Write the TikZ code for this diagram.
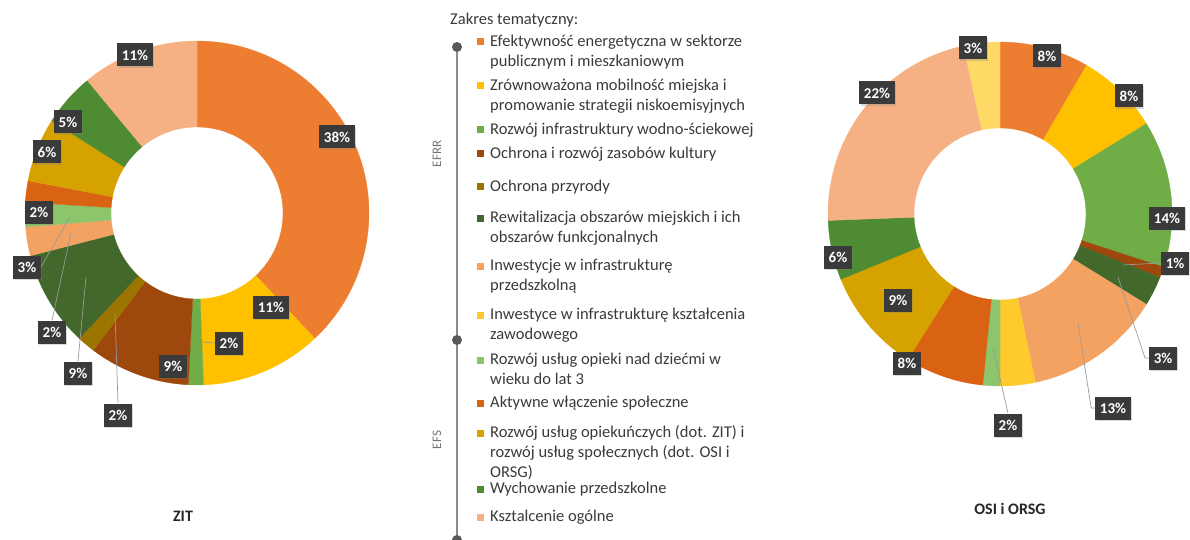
\documentclass[tikz,border=0pt]{standalone}
\usepackage{fontspec}
\setmainfont{Carlito}
\usetikzlibrary{calc,shadows}

\definecolor{cEfek}{HTML}{ED7D31}
\definecolor{cMob}{HTML}{FFC000}
\definecolor{cWod}{HTML}{70AD47}
\definecolor{cKult}{HTML}{9E480E}
\definecolor{cPrzyr}{HTML}{9C7400}
\definecolor{cRewit}{HTML}{43682B}
\definecolor{cPrzed}{HTML}{F4A261}
\definecolor{cZawod}{HTML}{FFCA2E}
\definecolor{cDzieci}{HTML}{8CC56B}
\definecolor{cAktyw}{HTML}{DA6213}
\definecolor{cOpiek}{HTML}{D6A200}
\definecolor{cWych}{HTML}{4F8B32}
\definecolor{cOgol}{HTML}{F5B183}
\definecolor{cJasny}{HTML}{FFD966}
\definecolor{labgray}{HTML}{3A3A3A}
\definecolor{legtext}{HTML}{3A3A3A}

\def\Rout{172pt}
\def\Rin{86pt}
\def\ringseg[#1](#2)(#3:#4){\path[fill=#1, draw=#1, line width=0.3pt] ($(#2)+({90-3.6*#3}:\Rout)$) arc ({90-3.6*#3}:{90-3.6*#4}:\Rout) -- ($(#2)+({90-3.6*#4}:\Rin)$) arc ({90-3.6*#4}:{90-3.6*#3}:\Rin) -- cycle;}
\newcommand{\legitem}[4]{\fill[#2] (477,#3-3.5) rectangle ++(7,7);
	\node[legtxt] (#1) at (490,#3+9.3) {\strut #4};}

\begin{document}
\begin{tikzpicture}[x=1pt, y=1pt,
		pct/.style={fill=labgray, text=white, font=\bfseries\fontsize{15}{15}\selectfont, inner sep=4.5pt, minimum height=23pt, drop shadow={shadow xshift=1.2pt, shadow yshift=-1.2pt, opacity=0.3}},
		lead/.style={draw=black!40, line width=0.7pt},
		legtxt/.style={anchor=north west, inner sep=0pt, align=left, text=legtext, font=\fontsize{16.5}{19.8}\selectfont},
		side/.style={rotate=90, text=black!55, font=\fontsize{13}{13}\selectfont},
		title/.style={font=\bfseries\fontsize{16}{16}\selectfont, text=black!85},
		tline/.style={draw=black!45, line width=1.5pt},
		tdot/.style={fill=black!65}]
		%%%%% START %%%%%
		
		\useasboundingbox (0,0) rectangle (1190,539);
		
		% ZIT
		\coordinate (zc) at (197,326);
		\ringseg[cEfek](zc)(0:38)
		\ringseg[cMob](zc)(38:49.4)
		\ringseg[cWod](zc)(49.4:50.8)
		\ringseg[cKult](zc)(50.8:60.3)
		\ringseg[cPrzyr](zc)(60.3:62)
		\ringseg[cRewit](zc)(62:71)
		\ringseg[cPrzed](zc)(71:73.7)
		\ringseg[cDzieci](zc)(73.7:76)
		\ringseg[cAktyw](zc)(76:78)
		\ringseg[cOpiek](zc)(78:84)
		\ringseg[cWych](zc)(84:89)
		\ringseg[cOgol](zc)(89:100)
		
		\node[pct] (z11a) at (135,484) {11\%};
		\node[pct] (z38) at (337,402) {38\%};
		\node[pct] (z5) at (68,417) {5\%};
		\node[pct] (z6) at (47,387) {6\%};
		\node[pct] (z2a) at (39,327) {2\%};
		\node[pct] (z3) at (27,272) {3\%};
		\node[pct] (z2b) at (52,207) {2\%};
		\node[pct] (z9a) at (78,166) {9\%};
		\node[pct] (z2c) at (118,124) {2\%};
		\node[pct] (z9b) at (173,173) {9\%};
		\node[pct] (z2d) at (229,196) {2\%};
		\node[pct] (z11b) at (271,232) {11\%};
		
		\coordinate (zDz) at (70,322);
		\coordinate (zPr) at (71,306);
		\coordinate (zRe) at (86,262);
		\coordinate (zPz) at (115,226);
		\coordinate (zWo) at (202,197);
		\draw[lead] (zDz) -- (z3.east);
		\draw[lead] (zPr) -- (z2b.north);
		\draw[lead] (zRe) -- (z9a.north);
		\draw[lead] (zPz) -- (z2c.north);
		\draw[lead] (zWo) -- (z2d.west);
		
		\node[title] (zit) at (183,23) {ZIT};
		
		% OSI i ORSG
		\coordinate (oc) at (1000,325);
		\ringseg[cEfek](oc)(0:8.4)
		\ringseg[cMob](oc)(8.4:16.2)
		\ringseg[cWod](oc)(16.2:30)
		\ringseg[cKult](oc)(30:31)
		\ringseg[cRewit](oc)(31:33.8)
		\ringseg[cPrzed](oc)(33.8:46.7)
		\ringseg[cZawod](oc)(46.7:50)
		\ringseg[cDzieci](oc)(50:51.6)
		\ringseg[cAktyw](oc)(51.6:59)
		\ringseg[cOpiek](oc)(59:68.8)
		\ringseg[cWych](oc)(68.8:74.4)
		\ringseg[cOgol](oc)(74.4:96.6)
		\ringseg[cJasny](oc)(96.6:100)
		
		\node[pct] (o3a) at (973,491) {3\%};
		\node[pct] (o8a) at (1047,483) {8\%};
		\node[pct] (o8b) at (1129,443) {8\%};
		\node[pct] (o22) at (877,446) {22\%};
		\node[pct] (o14) at (1167,321) {14\%};
		\node[pct] (o1) at (1175,276) {1\%};
		\node[pct] (o6) at (838,282) {6\%};
		\node[pct] (o9) at (898,239) {9\%};
		\node[pct] (o8c) at (907,176) {8\%};
		\node[pct] (o2) at (1008,114) {2\%};
		\node[pct] (o13) at (1113,131) {13\%};
		\node[pct] (o3b) at (1163,181) {3\%};
		
		\coordinate (oKu) at (1123,274);
		\coordinate (oRe) at (1118,262);
		\coordinate (oPr) at (1078,216);
		\coordinate (oDz) at (993,191);
		\draw[lead] (oKu) -- (o1.west);
		\draw[lead] (oRe) -- ([xshift=-4pt]o3b.west) -- (o3b.west);
		\draw[lead] (oPr) -- ([xshift=-4pt]o13.west) -- (o13.west);
		\draw[lead] (oDz) -- (o2.north);
		
		\node[title] (osi) at (1010,30) {OSI i ORSG};
		
		% legenda
		\node[anchor=west, inner sep=0pt, text=legtext, font=\fontsize{16.5}{16.5}\selectfont] (zakres) at (450,519) {Zakres tematyczny:};
		
		\coordinate (tA) at (457,492);
		\coordinate (tB) at (457,199);
		\coordinate (tC) at (457,-1);
		\draw[tline] (tA) -- (tB) -- (tC);
		\foreach \p in {tA,tB,tC} \fill[tdot] (\p) circle (5);
		\node[side] (efrr) at (437,385) {EFRR};
		\node[side] (efs) at (437,99) {EFS};
		
		\legitem{l1}{cEfek}{497}{Efektywność energetyczna w sektorze\\publicznym i mieszkaniowym}
		\legitem{l2}{cMob}{453}{Zrównoważona mobilność miejska i\\promowanie strategii niskoemisyjnych}
		\legitem{l3}{cWod}{409}{Rozwój infrastruktury wodno-ściekowej}
		\legitem{l4}{cKult}{385}{Ochrona i rozwój zasobów kultury}
		\legitem{l5}{cPrzyr}{352}{Ochrona przyrody}
		\legitem{l6}{cRewit}{321}{Rewitalizacja obszarów miejskich i ich\\obszarów funkcjonalnych}
		\legitem{l7}{cPrzed}{273}{Inwestycje w infrastrukturę\\przedszkolną}
		\legitem{l8}{cZawod}{224}{Inwestyce w infrastrukturę kształcenia\\zawodowego}
		\legitem{l9}{cDzieci}{179}{Rozwój usług opieki nad dziećmi w\\wieku do lat 3}
		\legitem{l10}{cAktyw}{136}{Aktywne włączenie społeczne}
		\legitem{l11}{cOpiek}{106}{Rozwój usług opiekuńczych (dot. ZIT) i\\rozwój usług społecznych (dot. OSI i\\ORSG)}
		\legitem{l12}{cWych}{50}{Wychowanie przedszkolne}
		\legitem{l13}{cOgol}{22}{Ksztalcenie ogólne}
		
		%%%%% END %%%%%
\end{tikzpicture}
\end{document}
